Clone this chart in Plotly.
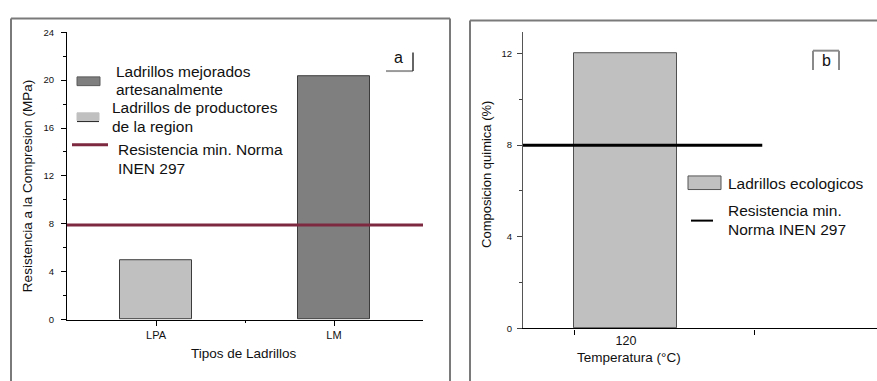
import plotly.graph_objects as go

# ---------------- data ----------------
categories_a = ["LPA", "LM"]
values_a = [4.95, 20.35]
norma_a = 7.9
legend_a_bars = ["Ladrillos mejorados\nartesanalmente", "Ladrillos de productores\nde la region"]
legend_a_line = "Resistencia min. Norma\nINEN 297"
ytitle_a = "Resistencia a la Compresion (MPa)"
xtitle_a = "Tipos de Ladrillos"
yticks_a = [0, 4, 8, 12, 16, 20, 24]

categories_b = ["120"]
values_b = [12.0]
norma_b = 8.0
legend_b_bar = "Ladrillos ecologicos"
legend_b_line = "Resistencia min.\nNorma INEN 297"
ytitle_b = "Composicion quimica (%)"
xtitle_b = "Temperatura (°C)"
yticks_b = [0, 4, 8, 12]

# ---------------- styles / layout constants ----------------
W, H = 877, 381
FONT = "Liberation Sans, Arial, sans-serif"
DARK = "#7f7f7f"
LIGHT = "#c0c0c0"
EDGE = "#3c3c3c"
RED = "#7d2a40"
FRAME = "#7a7a7a"


def fx(p):
    return p / W


def fy(p):
    return 1 - p / H


xa = [i + 1 for i in range(len(categories_a))]
xa_range = [0.5, 2.5]
xb = [float(c) for c in categories_b]
xb_range = [100, 168.8]
xb_line_end = 146.5

fig = go.Figure()

# Panel a bars
fig.add_trace(go.Bar(
    x=xa, y=values_a, width=0.4,
    marker=dict(color=[LIGHT, DARK], line=dict(color=EDGE, width=1)),
    xaxis="x", yaxis="y", showlegend=False, hoverinfo="x+y"))
# Panel a norm line
fig.add_trace(go.Scatter(
    x=xa_range, y=[norma_a, norma_a], mode="lines",
    line=dict(color=RED, width=3), xaxis="x", yaxis="y", showlegend=False))

# Panel b bar
fig.add_trace(go.Bar(
    x=xb, y=values_b, width=20,
    marker=dict(color=LIGHT, line=dict(color="#505050", width=1)),
    xaxis="x2", yaxis="y2", showlegend=False))
fig.add_trace(go.Scatter(
    x=[xb_range[0], xb_line_end], y=[norma_b, norma_b], mode="lines",
    line=dict(color="black", width=3), xaxis="x2", yaxis="y2", showlegend=False))

shapes = []
annotations = []


def line(x0, y0, x1, y1, color, width):
    shapes.append(dict(type="line", xref="paper", yref="paper",
                       x0=fx(x0), y0=fy(y0), x1=fx(x1), y1=fy(y1),
                       line=dict(color=color, width=width)))


def rect(x0, y0, x1, y1, fill, edge, width=1):
    shapes.append(dict(type="rect", xref="paper", yref="paper",
                       x0=fx(x0), y0=fy(y0), x1=fx(x1), y1=fy(y1),
                       fillcolor=fill, line=dict(color=edge, width=width)))


def text(x, y, s, size, xanchor="left", angle=0, color="#111"):
    annotations.append(dict(x=fx(x), y=fy(y), xref="paper", yref="paper",
                            text=s, showarrow=False, xanchor=xanchor, yanchor="middle",
                            textangle=angle, font=dict(family=FONT, size=size, color=color)))


# Frames
line(11, 13, 11, 395, FRAME, 2)
line(11, 13, 450, 13, FRAME, 2)
line(450, 13, 450, 395, FRAME, 2)
line(470, 15, 470, 395, FRAME, 2)
line(470, 15, 890, 15, FRAME, 2)

# Legend a
rect(77, 73, 100, 82, DARK, "#5a5a5a")
rect(77, 110, 99, 118, LIGHT, LIGHT)
line(77, 119, 99, 119, "#222", 1)
line(72, 143, 108, 143, RED, 3)
la0 = legend_a_bars[0].split("\n")
la1 = legend_a_bars[1].split("\n")
ll = legend_a_line.split("\n")
text(114, 67, la0[0], 15.5)
text(114, 86, la0[1], 15.5)
text(110, 105, la1[0], 15.5)
text(110, 124, la1[1], 15.5)
text(116, 148, ll[0], 15.5)
text(116, 167, ll[1], 15.5)

# "a" label box
text(398, 53, "a", 16, xanchor="center")
line(386, 67, 413, 67, "#9a9a9a", 2)
line(413, 48, 413, 67, "#333", 1.5)

# Legend b
rect(688, 175, 721, 189, LIGHT, "#555", 1)
text(726, 183, legend_b_bar, 15.5)
line(691, 221, 713, 221, "black", 2)
lb = legend_b_line.split("\n")
text(726, 211, lb[0], 15.5)
text(726, 230, lb[1], 15.5)

# "b" label box
text(826, 56, "b", 16, xanchor="center")
line(813, 46, 813, 66, "#8a8a8a", 2)
line(813, 46, 839, 46, "#8a8a8a", 2)
line(839, 46, 839, 66, "#8a8a8a", 2)

# Axis titles
text(27.5, 186, ytitle_a, 13.5, xanchor="center", angle=-90)
text(244, 358, xtitle_a, 13.5, xanchor="center")
text(487, 174, ytitle_b, 13, xanchor="center", angle=-90)
text(629, 362, xtitle_b, 13.5, xanchor="center")

fig.update_layout(
    width=W, height=H, autosize=False,
    margin=dict(l=0, r=0, t=0, b=0),
    paper_bgcolor="white", plot_bgcolor="white",
    font=dict(family=FONT, color="#111"),
    bargap=0,
    xaxis=dict(domain=[fx(67), fx(423)], range=xa_range, anchor="y",
               tickvals=xa, ticktext=categories_a, ticks="outside", ticklen=5,
               tickcolor="black", showline=True, linecolor="black", linewidth=1.2,
               showgrid=False, zeroline=False,
               tickfont=dict(family=FONT, size=11, color="#111"),
               minor=dict(tickmode="array", tickvals=[1.5], ticks="outside", ticklen=2,
                          tickcolor="black")),
    yaxis=dict(domain=[fy(323), fy(27)], range=[0, 24], anchor="x",
               tickvals=yticks_a, ticks="outside", ticklen=5, tickcolor="black",
               showline=True, linecolor="black", linewidth=1.2,
               showgrid=False, zeroline=False, ticklabelstandoff=5,
               tickfont=dict(family=FONT, size=9.5, color="#111"),
               minor=dict(dtick=2, ticks="outside", ticklen=3, tickcolor="black")),
    xaxis2=dict(domain=[fx(523), 1.0], range=xb_range, anchor="y2",
                tickvals=xb, ticktext=categories_b, ticks="",
                showline=True, linecolor="black", linewidth=1.2,
                showgrid=False, zeroline=False,
                tickfont=dict(family=FONT, size=12.5, color="#111"),
                minor=dict(tickmode="array", tickvals=[110, 145], ticks="outside",
                           ticklen=5, tickcolor="black")),
    yaxis2=dict(domain=[fy(332), fy(27)], range=[0, 12.93], anchor="x2",
                tickvals=yticks_b, ticks="outside", ticklen=5, tickcolor="#444",
                showline=True, linecolor="#555", linewidth=1.2,
                showgrid=False, zeroline=False, ticklabelstandoff=3,
                tickfont=dict(family=FONT, size=9.5, color="#111"),
                minor=dict(dtick=2, ticks="outside", ticklen=3, tickcolor="#444")),
    shapes=shapes,
    annotations=annotations,
)

fig.write_html("out.html",
               config={"displayModeBar": False},
               post_script="document.body.style.margin='0';document.body.style.overflow='hidden';")
